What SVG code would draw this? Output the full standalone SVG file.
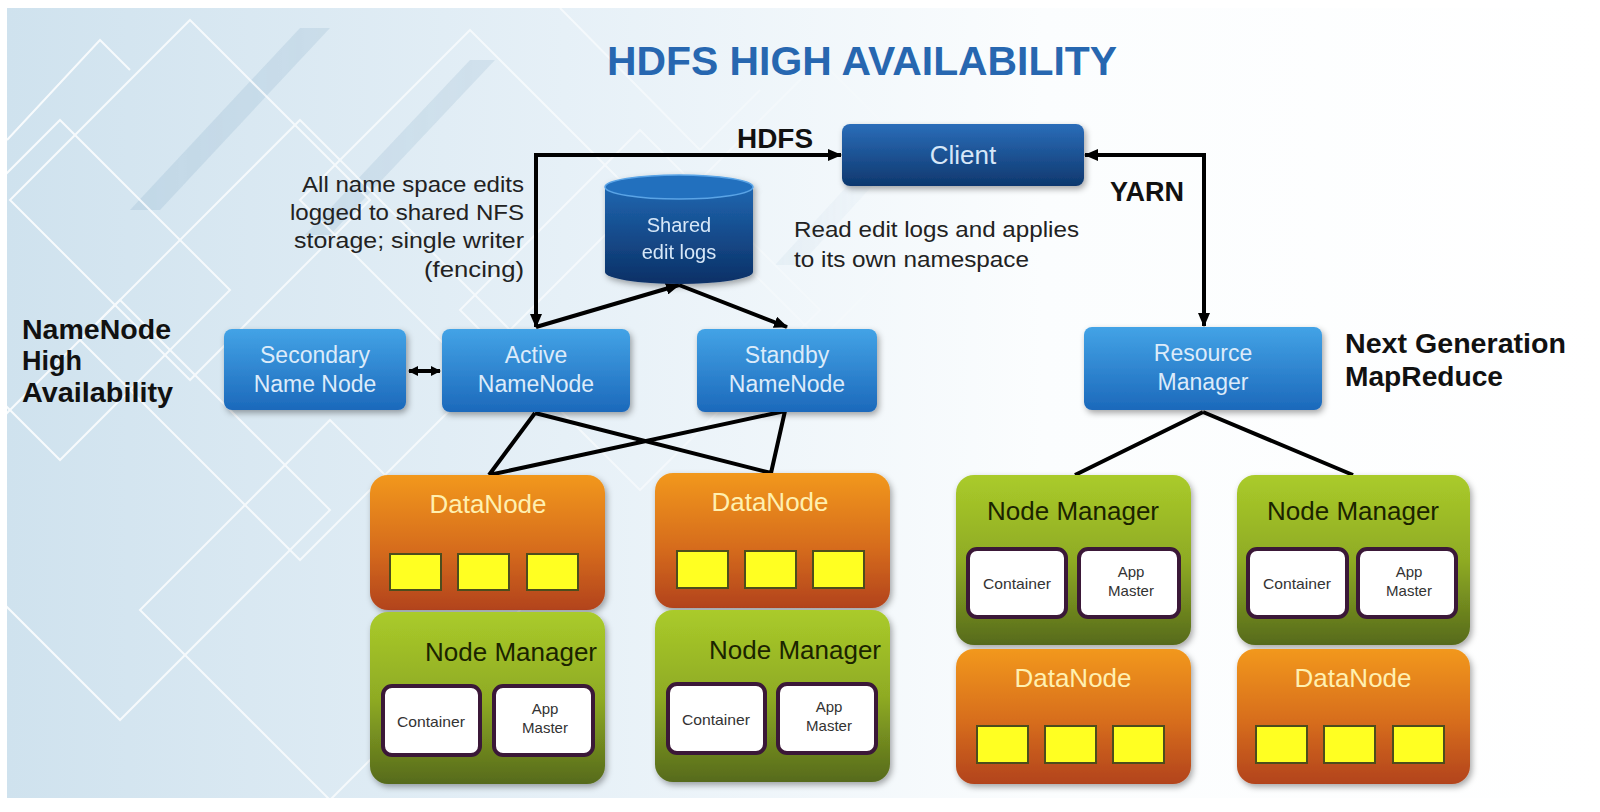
<svg xmlns="http://www.w3.org/2000/svg" width="1600" height="812" viewBox="0 0 1600 812">
<defs>
<style>
.lbl{font-family:"Liberation Sans",Arial,sans-serif;font-weight:bold;fill:#111;}
.note{font-family:"Liberation Sans",Arial,sans-serif;font-size:22px;fill:#222;}
.bt{font-family:"Liberation Sans",Arial,sans-serif;font-size:23px;fill:#dcebfa;text-anchor:middle;}
.dn{font-family:"Liberation Sans",Arial,sans-serif;font-size:26px;fill:#fff0b0;text-anchor:middle;}
.nm{font-family:"Liberation Sans",Arial,sans-serif;font-size:26px;fill:#1b2400;text-anchor:middle;}
.ct{font-family:"Liberation Sans",Arial,sans-serif;font-size:15px;fill:#333;text-anchor:middle;}
.conn{fill:none;stroke:#000;stroke-width:4;stroke-linejoin:miter;}
.sq{fill:#ffff22;stroke:#4d4d1c;stroke-width:2;}
.cbox{fill:#fff;stroke:#3b1838;stroke-width:4;}
</style>
<linearGradient id="bg" x1="0" y1="0" x2="1" y2="0">
<stop offset="0" stop-color="#cfe2ee"/>
<stop offset="0.35" stop-color="#e6f0f7"/>
<stop offset="0.65" stop-color="#fbfdfe"/>
<stop offset="1" stop-color="#ffffff"/>
</linearGradient>
<linearGradient id="fadeG" x1="0" y1="0" x2="1" y2="0">
<stop offset="0" stop-color="#fff"/>
<stop offset="0.35" stop-color="#fff" stop-opacity="0.7"/>
<stop offset="0.6" stop-color="#fff" stop-opacity="0"/>
</linearGradient>
<mask id="fade"><rect x="0" y="0" width="1600" height="812" fill="url(#fadeG)"/></mask>
<linearGradient id="gBlue" x1="0" y1="0" x2="0" y2="1">
<stop offset="0" stop-color="#43a3e6"/>
<stop offset="1" stop-color="#1c69bb"/>
</linearGradient>
<linearGradient id="gDark" x1="0" y1="0" x2="0" y2="1">
<stop offset="0" stop-color="#2b6db9"/>
<stop offset="1" stop-color="#0e386e"/>
</linearGradient>
<linearGradient id="gCyl" x1="0" y1="0" x2="0" y2="1">
<stop offset="0" stop-color="#1f66b0"/>
<stop offset="1" stop-color="#0b3066"/>
</linearGradient>
<linearGradient id="gOr" x1="0" y1="0" x2="0" y2="1">
<stop offset="0" stop-color="#f2981c"/>
<stop offset="0.55" stop-color="#d66c1a"/>
<stop offset="1" stop-color="#b2431a"/>
</linearGradient>
<linearGradient id="gGr" x1="0" y1="0" x2="0" y2="1">
<stop offset="0" stop-color="#aacb2a"/>
<stop offset="0.5" stop-color="#8fab24"/>
<stop offset="1" stop-color="#566a1b"/>
</linearGradient>
<filter id="sh" x="-10%" y="-10%" width="125%" height="130%">
<feDropShadow dx="2" dy="3" stdDeviation="3" flood-color="#000" flood-opacity="0.35"/>
</filter>
<marker id="ah" viewBox="0 0 14 12" refX="13" refY="6" markerWidth="14" markerHeight="12" markerUnits="userSpaceOnUse" orient="auto-start-reverse">
<path d="M0,0 L14,6 L0,12 z" fill="#000"/>
</marker>
<marker id="ahs" viewBox="0 0 10 10" refX="9" refY="5" markerWidth="10" markerHeight="10" markerUnits="userSpaceOnUse" orient="auto-start-reverse">
<path d="M0,0 L10,5 L0,10 z" fill="#000"/>
</marker>
</defs>

<!-- background -->
<rect x="0" y="0" width="1600" height="812" fill="#fff"/>
<rect x="7" y="8" width="1593" height="790" fill="url(#bg)"/>
<g mask="url(#fade)">
<g fill="#9fbdd3" opacity="0.35">
<polygon points="300,28 330,28 160,210 130,210"/>
<polygon points="470,60 495,60 330,235 305,235"/>
<polygon points="880,150 905,150 800,265 775,265"/>
</g>
<g fill="none" stroke="#ffffff" stroke-width="2" opacity="0.85">
<polygon points="190,20 370,200 190,380 10,200"/>
<polygon points="300,120 520,340 300,560 80,340"/>
<polygon points="120,300 330,510 120,720 -90,510"/>
<polygon points="470,30 640,200 470,370 300,200"/>
<polygon points="640,130 820,310 640,490 460,310"/>
<polygon points="60,120 230,290 60,460 -110,290"/>
<polygon points="330,420 520,610 330,800 140,610"/>
<polygon points="820,60 960,200 820,340 680,200"/>
<polyline points="7,140 100,40 130,70"/>
<polyline points="560,8 700,150 760,90"/>
</g>
</g>

<!-- title -->
<text x="862" y="75" text-anchor="middle" font-family="'Liberation Sans',Arial,sans-serif" font-weight="bold" font-size="40" fill="#2767b0" textLength="510" lengthAdjust="spacingAndGlyphs">HDFS HIGH AVAILABILITY</text>

<!-- side labels -->
<g id="label-namenode-ha">
<text class="lbl" x="22" y="339" font-size="27" textLength="149" lengthAdjust="spacingAndGlyphs">NameNode</text>
<text class="lbl" x="22" y="370" font-size="27">High</text>
<text class="lbl" x="22" y="402" font-size="27" textLength="151" lengthAdjust="spacingAndGlyphs">Availability</text>
</g>
<g id="label-nextgen">
<text class="lbl" x="1345" y="353" font-size="27" textLength="221" lengthAdjust="spacingAndGlyphs">Next Generation</text>
<text class="lbl" x="1345" y="386" font-size="27" textLength="158" lengthAdjust="spacingAndGlyphs">MapReduce</text>
</g>
<g id="notes">
<text class="note" text-anchor="end" x="524" y="192" textLength="222" lengthAdjust="spacingAndGlyphs">All name space edits</text>
<text class="note" text-anchor="end" x="524" y="220" textLength="234" lengthAdjust="spacingAndGlyphs">logged to shared NFS</text>
<text class="note" text-anchor="end" x="524" y="248" textLength="230" lengthAdjust="spacingAndGlyphs">storage; single writer</text>
<text class="note" text-anchor="end" x="524" y="277" textLength="100" lengthAdjust="spacingAndGlyphs">(fencing)</text>
<text class="note" x="794" y="237" textLength="285" lengthAdjust="spacingAndGlyphs">Read edit logs and applies</text>
<text class="note" x="794" y="267" textLength="235" lengthAdjust="spacingAndGlyphs">to its own namespace</text>
</g>

<!-- connectors -->
<g id="connectors">
<path class="conn" d="M536 327 L536 155 L841 155" marker-start="url(#ah)" marker-end="url(#ah)"/>
<path class="conn" d="M1085 155 L1204 155 L1204 326" marker-start="url(#ah)" marker-end="url(#ah)"/>
<path class="conn" d="M536 327 L679 285" marker-end="url(#ah)"/>
<path class="conn" d="M679 285 L787 327" marker-end="url(#ah)"/>
<path class="conn" d="M409 371 L440 371" stroke-width="3" marker-start="url(#ahs)" marker-end="url(#ahs)"/>
<path class="conn" d="M535 413 L489 475 M535 413 L771 473 M785 411 L489 475 M785 411 L771 473"/>
<path class="conn" d="M1203 412 L1075 475 M1203 412 L1353 475"/>
<text class="lbl" x="737" y="148" font-size="27" textLength="76" lengthAdjust="spacingAndGlyphs">HDFS</text>
<text class="lbl" x="1110" y="201" font-size="27" textLength="74" lengthAdjust="spacingAndGlyphs">YARN</text>
</g>

<!-- Client -->
<g id="client">
<rect x="842" y="124" width="242" height="62" rx="8" fill="url(#gDark)" filter="url(#sh)"/>
<text x="963" y="164" text-anchor="middle" font-family="'Liberation Sans',Arial,sans-serif" font-size="26" fill="#d6e7f8">Client</text>
</g>

<!-- Shared edit logs -->
<g id="shared-edit-logs" filter="url(#sh)">
<path d="M605 187 L605 272 A74 12 0 0 0 753 272 L753 187 Z" fill="url(#gCyl)"/>
<ellipse cx="679" cy="187" rx="74" ry="12" fill="#2470be" stroke="#5aa4e6" stroke-width="1.5"/>
<text x="679" y="232" text-anchor="middle" font-family="'Liberation Sans',Arial,sans-serif" font-size="20" fill="#d6e7f8">Shared</text>
<text x="679" y="259" text-anchor="middle" font-family="'Liberation Sans',Arial,sans-serif" font-size="20" fill="#d6e7f8">edit logs</text>
</g>

<!-- NameNodes -->
<g id="secondary-namenode">
<rect x="224" y="329" width="182" height="81" rx="8" fill="url(#gBlue)" filter="url(#sh)"/>
<text class="bt" x="315" y="363">Secondary</text>
<text class="bt" x="315" y="392">Name Node</text>
</g>
<g id="active-namenode">
<rect x="442" y="329" width="188" height="83" rx="8" fill="url(#gBlue)" filter="url(#sh)"/>
<text class="bt" x="536" y="363">Active</text>
<text class="bt" x="536" y="392">NameNode</text>
</g>
<g id="standby-namenode">
<rect x="697" y="329" width="180" height="83" rx="8" fill="url(#gBlue)" filter="url(#sh)"/>
<text class="bt" x="787" y="363">Standby</text>
<text class="bt" x="787" y="392">NameNode</text>
</g>
<g id="resource-manager">
<rect x="1084" y="327" width="238" height="83" rx="8" fill="url(#gBlue)" filter="url(#sh)"/>
<text class="bt" x="1203" y="361">Resource</text>
<text class="bt" x="1203" y="390">Manager</text>
</g>

<!-- Left stacks -->
<g id="datanode-1">
<rect x="370" y="475" width="235" height="135" rx="18" fill="url(#gOr)" filter="url(#sh)"/>
<text class="dn" x="488" y="513">DataNode</text>
<rect class="sq" x="390" y="554" width="51" height="36"/>
<rect class="sq" x="458" y="554" width="51" height="36"/>
<rect class="sq" x="527" y="554" width="51" height="36"/>
</g>
<g id="nodemanager-1">
<rect x="370" y="612" width="235" height="172" rx="18" fill="url(#gGr)" filter="url(#sh)"/>
<text class="nm" x="511" y="661">Node Manager</text>
<rect class="cbox" x="383" y="686" width="97" height="69" rx="9"/>
<text class="ct" x="431" y="727" textLength="68" lengthAdjust="spacingAndGlyphs">Container</text>
<rect class="cbox" x="494" y="686" width="99" height="69" rx="9"/>
<text class="ct" x="545" y="714">App</text>
<text class="ct" x="545" y="733">Master</text>
</g>
<g id="datanode-2">
<rect x="655" y="473" width="235" height="135" rx="18" fill="url(#gOr)" filter="url(#sh)"/>
<text class="dn" x="770" y="511">DataNode</text>
<rect class="sq" x="677" y="551" width="51" height="37"/>
<rect class="sq" x="745" y="551" width="51" height="37"/>
<rect class="sq" x="813" y="551" width="51" height="37"/>
</g>
<g id="nodemanager-2">
<rect x="655" y="610" width="235" height="172" rx="18" fill="url(#gGr)" filter="url(#sh)"/>
<text class="nm" x="795" y="659">Node Manager</text>
<rect class="cbox" x="668" y="684" width="97" height="69" rx="9"/>
<text class="ct" x="716" y="725" textLength="68" lengthAdjust="spacingAndGlyphs">Container</text>
<rect class="cbox" x="778" y="684" width="98" height="69" rx="9"/>
<text class="ct" x="829" y="712">App</text>
<text class="ct" x="829" y="731">Master</text>
</g>

<!-- Right stacks -->
<g id="nodemanager-3">
<rect x="956" y="475" width="235" height="170" rx="18" fill="url(#gGr)" filter="url(#sh)"/>
<text class="nm" x="1073" y="520">Node Manager</text>
<rect class="cbox" x="968" y="549" width="98" height="68" rx="9"/>
<text class="ct" x="1017" y="589" textLength="68" lengthAdjust="spacingAndGlyphs">Container</text>
<rect class="cbox" x="1079" y="549" width="100" height="68" rx="9"/>
<text class="ct" x="1131" y="577">App</text>
<text class="ct" x="1131" y="596">Master</text>
</g>
<g id="datanode-3">
<rect x="956" y="649" width="235" height="135" rx="18" fill="url(#gOr)" filter="url(#sh)"/>
<text class="dn" x="1073" y="687">DataNode</text>
<rect class="sq" x="977" y="726" width="51" height="37"/>
<rect class="sq" x="1045" y="726" width="51" height="37"/>
<rect class="sq" x="1113" y="726" width="51" height="37"/>
</g>
<g id="nodemanager-4">
<rect x="1237" y="475" width="233" height="170" rx="18" fill="url(#gGr)" filter="url(#sh)"/>
<text class="nm" x="1353" y="520">Node Manager</text>
<rect class="cbox" x="1248" y="549" width="99" height="68" rx="9"/>
<text class="ct" x="1297" y="589" textLength="68" lengthAdjust="spacingAndGlyphs">Container</text>
<rect class="cbox" x="1358" y="549" width="98" height="68" rx="9"/>
<text class="ct" x="1409" y="577">App</text>
<text class="ct" x="1409" y="596">Master</text>
</g>
<g id="datanode-4">
<rect x="1237" y="649" width="233" height="135" rx="18" fill="url(#gOr)" filter="url(#sh)"/>
<text class="dn" x="1353" y="687">DataNode</text>
<rect class="sq" x="1256" y="726" width="51" height="37"/>
<rect class="sq" x="1324" y="726" width="51" height="37"/>
<rect class="sq" x="1393" y="726" width="51" height="37"/>
</g>
</svg>
